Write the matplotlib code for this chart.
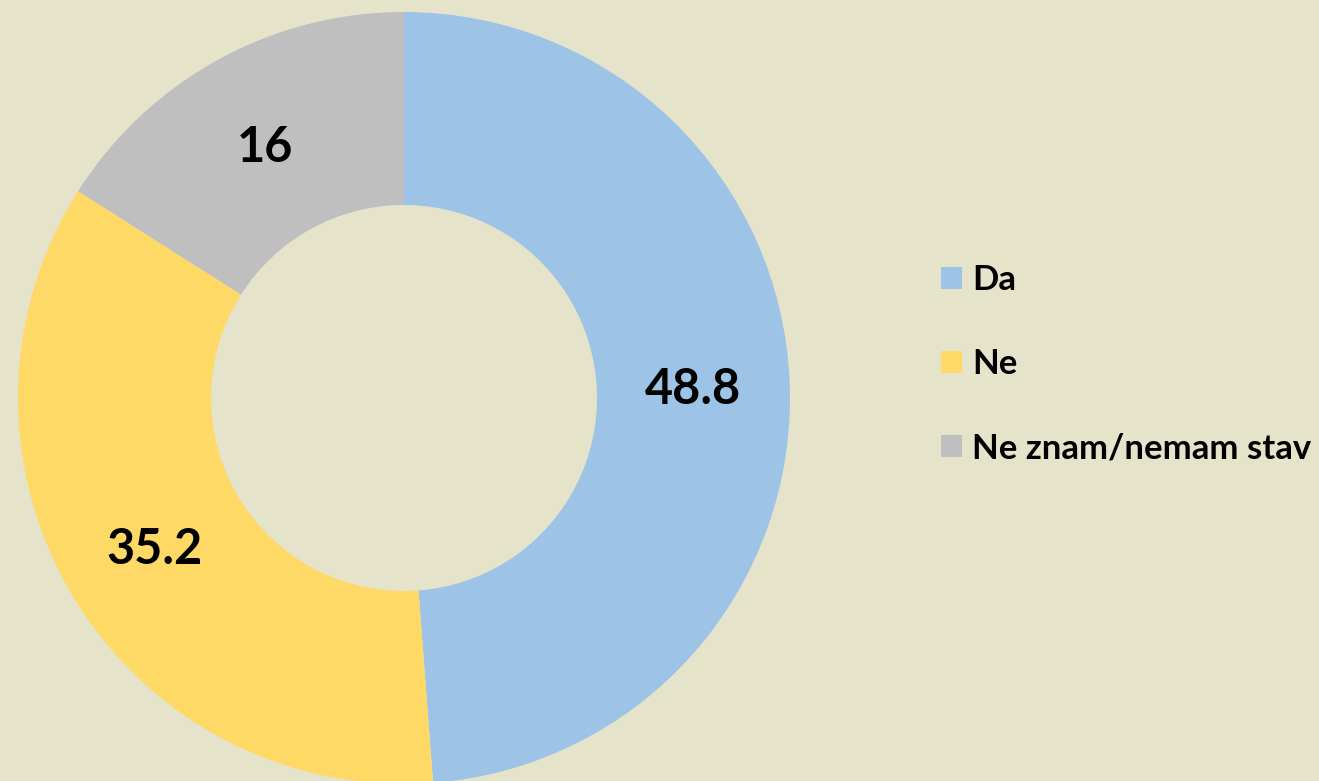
import matplotlib.pyplot as plt
from matplotlib.patches import Patch

labels = ["Da", "Ne", "Ne znam/nemam stav"]
values = [48.8, 35.2, 16]
colors = ["#9dc3e6", "#ffd966", "#bfbfbf"]
bg = "#e6e3cb"

fig = plt.figure(figsize=(13.19, 7.81), dpi=100, facecolor=bg)
W, H = 1319, 781
cx, cy, r = 404, 398, 386
ax = fig.add_axes([(cx - r) / W, (H - cy - r) / H, 2 * r / W, 2 * r / H])
ax.set_facecolor(bg)

wedges, _ = ax.pie(values, colors=colors, startangle=90, counterclock=False,
                   radius=1, wedgeprops=dict(width=0.5, linewidth=0))
ax.set_xlim(-1, 1)
ax.set_ylim(-1, 1)
ax.set_aspect("equal")
ax.axis("off")

# data labels
label_pos = [(693, 390), (155, 550), (265, 147)]
for (px, py), v in zip(label_pos, values):
    x = (px - cx) / r
    y = (cy - py) / r
    ax.text(x, y, "{:g}".format(v), ha="center", va="center",
            fontsize=35, fontweight="bold", family="Lato", color="black")

handles = [Patch(facecolor=c, edgecolor="none") for c in colors]
fig.legend(handles, labels, loc="center left", bbox_to_anchor=(941 / W, 1 - 364 / H),
           frameon=False, prop=dict(family="Lato", weight="bold", size=25),
           handlelength=0.6, handleheight=0.6, handletextpad=0.3,
           labelspacing=1.5, borderpad=0, borderaxespad=0)

plt.savefig("out.png", dpi=100, facecolor=bg)
